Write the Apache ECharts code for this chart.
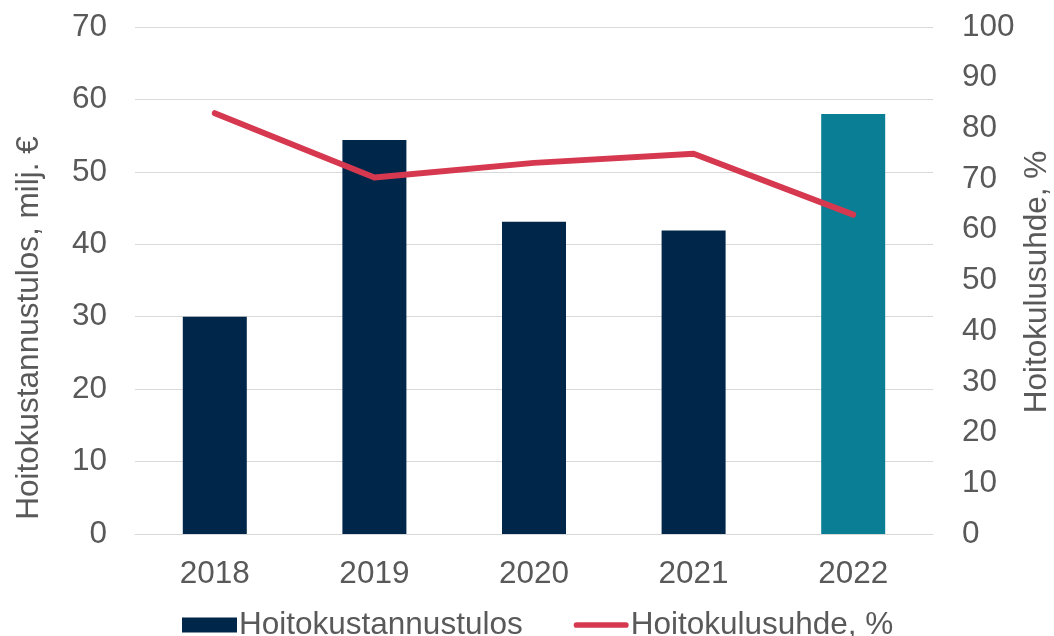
<!DOCTYPE html>
<html>
<head>
<meta charset="utf-8">
<script src="https://cdn.jsdelivr.net/npm/echarts@6/dist/echarts.min.js"></script>
<style>
  html, body { margin: 0; padding: 0; background: #fff; }
  #chart { width: 1054px; height: 636px; }
</style>
</head>
<body>
<div id="chart"></div>
<script>
// data
var years = ['2018', '2019', '2020', '2021', '2022'];
var hoitokustannustulos = [30.0, 54.4, 43.1, 41.9, 58.0];   // milj. €, left axis
var hoitokulusuhde = [83.0, 70.3, 73.2, 75.0, 63.0];        // %, right axis
var barColors = ['#00264a', '#00264a', '#00264a', '#00264a', '#0a7e95'];

var textColor = '#595959';
var lineColor = '#d6394f';
var font = 'Liberation Sans, Arial, sans-serif';
var fs = 31.5;

// thin rounded line inside a 58x15 box (the moveTos keep the box size)
var lineIcon = 'path://M0,0 M58,15 M3,4.5 L55,4.5 A3,3 0 0 1 55,10.5 L3,10.5 A3,3 0 0 1 3,4.5 Z';

var myChart = echarts.init(document.getElementById('chart'));

var option = {
  animation: false,
  textStyle: { fontFamily: font },
  grid: { left: 135, right: 121, top: 27, bottom: 102 },
  legend: {
    left: 177,
    top: 604,
    itemWidth: 55,
    itemHeight: 15,
    itemGap: 51,
    textStyle: { color: textColor, fontSize: fs, fontFamily: font, padding: [0, 0, 0, -3] },
    data: [
      { name: 'Hoitokustannustulos', icon: 'rect' },
      { name: 'Hoitokulusuhde, %', icon: lineIcon, itemStyle: { color: lineColor } }
    ]
  },
  xAxis: {
    type: 'category',
    data: years,
    axisLine: { lineStyle: { color: '#d9d9d9', width: 1 } },
    axisTick: { show: false },
    axisLabel: { color: textColor, fontSize: fs, margin: 24, fontFamily: font }
  },
  yAxis: [
    {
      type: 'value',
      min: 0, max: 70, interval: 10,
      axisLine: { show: false },
      axisTick: { show: false },
      splitLine: { lineStyle: { color: '#d9d9d9', width: 1 } },
      axisLabel: { color: textColor, fontSize: fs, margin: 28, fontFamily: font }
    },
    {
      type: 'value',
      min: 0, max: 100, interval: 10,
      axisLine: { show: false },
      axisTick: { show: false },
      splitLine: { show: false },
      axisLabel: { color: textColor, fontSize: fs, margin: 29, fontFamily: font }
    }
  ],
  graphic: [
    {
      type: 'text', x: 29, y: 328, rotation: Math.PI / 2,
      style: { text: 'Hoitokustannustulos, milj. €', fill: textColor, font: fs + 'px ' + font,
               textAlign: 'center', textVerticalAlign: 'middle' }
    },
    {
      type: 'text', x: 1037, y: 282, rotation: Math.PI / 2,
      style: { text: 'Hoitokulusuhde, %', fill: textColor, font: fs + 'px ' + font,
               textAlign: 'center', textVerticalAlign: 'middle' }
    }
  ],
  series: [
    {
      name: 'Hoitokustannustulos',
      type: 'bar',
      yAxisIndex: 0,
      barWidth: 64,
      itemStyle: { color: barColors[0] },
      data: hoitokustannustulos.map(function (v, i) {
        return { value: v, itemStyle: { color: barColors[i] } };
      })
    },
    {
      name: 'Hoitokulusuhde, %',
      type: 'line',
      yAxisIndex: 1,
      symbol: 'none',
      lineStyle: { color: lineColor, width: 6, cap: 'round', join: 'round' },
      itemStyle: { color: lineColor },
      data: hoitokulusuhde
    }
  ]
};

myChart.setOption(option);
window.addEventListener('resize', function () { myChart.resize(); });
</script>
</body>
</html>
